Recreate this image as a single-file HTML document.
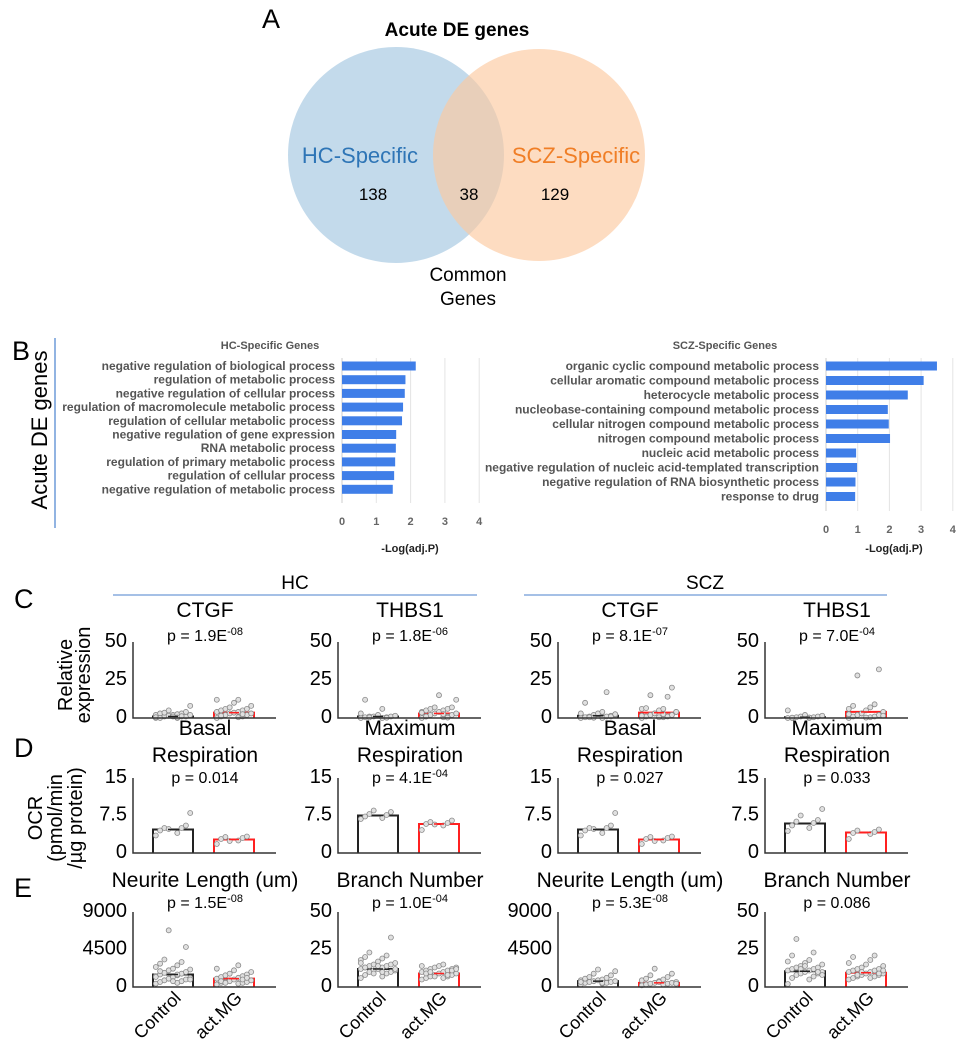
<!DOCTYPE html>
<html><head><meta charset="utf-8"><style>
body{margin:0;background:#fff;}
svg text{font-family:"Liberation Sans",Arial,sans-serif;}
</style></head><body>
<svg id="fig" width="965" height="1050" viewBox="0 0 965 1050" xmlns="http://www.w3.org/2000/svg">
<g>
<text x="262" y="28" font-size="27">A</text>
<text x="457" y="36" font-size="19" font-weight="bold" text-anchor="middle">Acute DE genes</text>
<circle cx="396" cy="155" r="108" fill="#a9cbe2" fill-opacity="0.7"/>
<circle cx="539" cy="155" r="106" fill="#fccaa0" fill-opacity="0.65"/>
<text x="360" y="163" font-size="22" fill="#2e75b6" text-anchor="middle">HC-Specific</text>
<text x="576" y="163" font-size="22" fill="#f07e26" text-anchor="middle">SCZ-Specific</text>
<text x="373" y="200" font-size="17" text-anchor="middle">138</text>
<text x="469" y="200" font-size="17" text-anchor="middle">38</text>
<text x="555" y="200" font-size="17" text-anchor="middle">129</text>
<text x="468" y="281" font-size="19" text-anchor="middle">Common</text>
<text x="468" y="305" font-size="19" text-anchor="middle">Genes</text>
</g>
<g id="pb">
<text x="12" y="360" font-size="27">B</text>
<line x1="55" y1="338" x2="55" y2="528" stroke="#6f9bd8" stroke-width="1.5"/>
<text transform="translate(47,430) rotate(-90)" font-size="22" text-anchor="middle">Acute DE genes</text>
</g>
<g id="pcde">
<text x="14" y="608" font-size="27">C</text>
<text x="14" y="757" font-size="27">D</text>
<text x="14" y="897" font-size="27">E</text>
<line x1="113" y1="595" x2="477" y2="595" stroke="#6f9bd8" stroke-width="1.2"/>
<text x="295" y="589" font-size="19" text-anchor="middle">HC</text>
<line x1="524" y1="595" x2="887" y2="595" stroke="#6f9bd8" stroke-width="1.2"/>
<text x="705" y="589" font-size="19" text-anchor="middle">SCZ</text>
<text transform="translate(72,675) rotate(-90)" font-size="20" text-anchor="middle">Relative</text>
<text transform="translate(90,675) rotate(-90)" font-size="20" text-anchor="middle">expression</text>
<text transform="translate(42,818) rotate(-90)" font-size="20" text-anchor="middle">OCR</text>
<text transform="translate(62,818) rotate(-90)" font-size="20" text-anchor="middle">(pmol/min</text>
<text transform="translate(82,818) rotate(-90)" font-size="20" text-anchor="middle">/µg protein)</text>
</g>
</svg>
<script>
// ---------- Panel B data ----------
const hcTerms=["negative regulation of biological process","regulation of metabolic process","negative regulation of cellular process","regulation of macromolecule metabolic process","regulation of cellular metabolic process","negative regulation of gene expression","RNA metabolic process","regulation of primary metabolic process","regulation of cellular process","negative regulation of metabolic process"];
const hcValues=[2.15,1.85,1.83,1.78,1.75,1.58,1.57,1.55,1.52,1.48];
const sczTerms=["organic cyclic compound metabolic process","cellular aromatic compound metabolic process","heterocycle metabolic process","nucleobase-containing compound metabolic process","cellular nitrogen compound metabolic process","nitrogen compound metabolic process","nucleic acid metabolic process","negative regulation of nucleic acid-templated transcription","negative regulation of RNA biosynthetic process","response to drug"];
const sczValues=[3.5,3.08,2.58,1.95,1.98,2.02,0.95,0.98,0.93,0.92];
const goTicks=[0,1,2,3,4];

// ---------- Panels C-E data ----------
const panelTitles=[["CTGF"],["THBS1"],["CTGF"],["THBS1"],["Basal","Respiration"],["Maximum","Respiration"],["Basal","Respiration"],["Maximum","Respiration"],["Neurite Length (um)"],["Branch Number"],["Neurite Length (um)"],["Branch Number"]];
const pTexts=[["p = 1.9E","-08"],["p = 1.8E","-06"],["p = 8.1E","-07"],["p = 7.0E","-04"],["p = 0.014",""],["p = 4.1E","-04"],["p = 0.027",""],["p = 0.033",""],["p = 1.5E","-08"],["p = 1.0E","-04"],["p =  5.3E","-08"],["p = 0.086",""]];
const panelMax=[50,50,50,50,15,15,15,15,9000,50,9000,50];
const panelTicks=[["0","25","50"],["0","25","50"],["0","25","50"],["0","25","50"],["0","7.5","15"],["0","7.5","15"],["0","7.5","15"],["0","7.5","15"],["0","4500","9000"],["0","25","50"],["0","4500","9000"],["0","25","50"]];
const panelTickVals=[[0,25,50],[0,25,50],[0,25,50],[0,25,50],[0,7.5,15],[0,7.5,15],[0,7.5,15],[0,7.5,15],[0,4500,9000],[0,25,50],[0,4500,9000],[0,25,50]];
const controlMeans=[1,1,1.5,0.5,4.7,7.5,4.7,5.9,1500,12,700,10.5];
const actMeans=[3.5,3,3.5,4,2.7,5.8,2.7,4.1,1000,9,500,9.5];
const controlDots=[
[0,0,0.5,1,1,1,1.5,2,2,2,2.5,3,3,3.5,4,5,8,1,0.5,0.3,0,1.2],
[0,0,0.5,0.5,1,1,1,1.5,2,3,6,12,0.2,0.4],
[0,0,0.5,1,1,1.5,2,2,3,3,4,10,17,0.5,1,0.2,2.5],
[0,0,0,0.5,0.5,1,1,1.5,2,5,0.3,0.2],
[3.5,4,4.5,5,5,5.5,4.8,8],
[6.8,7,7.3,7.6,7.8,8.2,8.5],
[3.5,4,4.5,5,5,5.5,4.8,8],
[4.4,5,5.5,6,6.3,6.6,7.5,8.8],
[400,500,600,700,800,900,1000,1100,1200,1300,1400,1500,1600,1700,1800,2000,2100,2200,2400,2600,2800,3000,3300,4800,6800,900,700,1200,1500,1900],
[6,7,8,9,10,10,11,11,12,12,13,13,14,14,15,15,16,17,18,19,20,21,23,33,9,12,14,16,10,13],
[300,400,500,500,600,600,700,700,800,800,900,1000,1100,1200,1400,1600,1900,2100,600,500],
[2,5,6,7,8,9,9,10,10,11,11,12,12,13,13,14,15,16,17,18,21,23,32,10,12,8,14]];
const actDots=[
[0,0.5,1,1,2,2,3,3,3.5,4,4,5,5,6,6,7,8,10,12,12,1.5,2.5],
[0,0.5,1,1,2,2,3,3,4,4,5,5,6,6,7,7,12,15,3.5,2.5,1,0.3],
[0,0.5,1,1,2,2,3,4,5,6,6,6.5,14,15,20,3,4,0.5,1.5,2.5],
[0,0.5,1,1,2,2,3,4,5,6,7,8,9,28,32,3,1.5,0.3,2.5],
[1.8,2.5,2.8,3,3.2,3.3,2.4],
[4.6,5.5,5.8,6,6.2,6.5,5.7],
[1.8,2.5,2.8,3,3.2,3.3,2.4],
[2.8,3.8,4,4.2,4.5,4.7],
[300,400,500,500,600,600,700,800,900,1000,1100,1200,1300,1400,1500,1600,1800,2000,2200,2600,700,900,500,1100],
[5,6,6,7,7,8,8,9,9,10,10,11,11,12,12,13,13,14,14,15,9,8,10,11,7,12],
[200,300,300,400,400,500,500,600,700,800,900,1000,1200,1400,1600,2200,400,600],
[5,6,6,7,7,8,8,9,9,10,10,11,11,12,12,13,14,15,16,18,20,21,8,9,10,11]];
const xCategories=["Control","act.MG"];

const svg=document.getElementById('fig');
const NS="http://www.w3.org/2000/svg";
function mk(tag,attrs,parent){const e=document.createElementNS(NS,tag);for(const k in attrs)e.setAttribute(k,attrs[k]);(parent||svg).appendChild(e);return e;}

// ---------- Panel B ----------
function goChart(terms,vals,x0,unit,yTop,step,title,titleX,name){
  const g=mk('g',{});
  
  
  const xs=v=>x0+v*unit;
  const yEnd=yTop+step*terms.length;
  goTicks.forEach(t=>{
    if(t>0){const gl=mk('line',{x1:xs(t),x2:xs(t),y1:yTop-8,y2:yEnd,stroke:'#e4e4e4','stroke-width':1},g);
      
      }
    const tl=mk('text',{x:xs(t),y:yEnd+22,'font-size':11,'font-weight':'bold',fill:'#666','text-anchor':'middle'},g);
    tl.textContent=t;
    
    
  });
  const ax=mk('line',{x1:x0,x2:x0,y1:yTop-8,y2:yEnd,stroke:'#ccc','stroke-width':1},g);
  
  
  terms.forEach((t,i)=>{
    const cy=yTop+i*step;
    const b=mk('rect',{x:x0,y:cy-4.5,width:xs(vals[i])-x0,height:9,fill:'#3f7ee8'},g);
    
    
    const l=mk('text',{x:x0-7,y:cy+4,'font-size':12,'font-weight':'bold',fill:'#555','text-anchor':'end'},g);
    l.textContent=t;
    
    
  });
  const tt=mk('text',{x:titleX,y:349,'font-size':11,'font-weight':'bold',fill:'#555','text-anchor':'middle'},g);
  tt.textContent=title;
  
  
  const xt=mk('text',{x:x0+68,y:552,'font-size':11,'font-weight':'bold',fill:'#222','text-anchor':'middle'},g);
  xt.textContent='-Log(adj.P)';
  
  
}
goChart(hcTerms,hcValues,342,34.3,366,13.7,'HC-Specific Genes',270,'hc-go-chart');
goChart(sczTerms,sczValues,826,31.7,366,14.5,'SCZ-Specific Genes',725,'scz-go-chart');

// ---------- Panels C-E ----------
const colX=[133,338,558,765];
const rowBase=[718,853,987];
const rowTop=[642,778,912];
const titleY=[[617],[735,762],[887]];
const pY=[641,783,908];
for(let p=0;p<12;p++){
  const r=Math.floor(p/4), c=p%4;
  const x0=colX[c], base=rowBase[r], top=rowTop[r];
  const ys=v=>base-(v/panelMax[p])*(base-top);
  const g=mk('g',{});
  
  
  const cx=x0+72;
  panelTitles[p].forEach((t,i)=>{
    const e=mk('text',{x:cx,y:titleY[r][i],'font-size':21,'text-anchor':'middle'},g);
    e.textContent=t;
    
    
  });
  const pt=mk('text',{x:cx,y:pY[r],'font-size':16,'text-anchor':'middle'},g);
  
  
  const t1=mk('tspan',{},pt);t1.textContent=pTexts[p][0];
  if(pTexts[p][1]){const t2=mk('tspan',{dy:-6,'font-size':11},pt);t2.textContent=pTexts[p][1];}
  panelTickVals[p].forEach((v,i)=>{
    const tl=mk('text',{x:x0-6,y:ys(v)+5,'font-size':20,'text-anchor':'end'},g);
    tl.textContent=panelTicks[p][i];
    
    
  });
  const means=[controlMeans[p],actMeans[p]], dots=[controlDots[p],actDots[p]];
  [0,1].forEach(k=>{
    const bx=x0+20+k*61, col=k?'#ff2020':'#222';
    const bc=bx+20;
    const bar=mk('path',{d:`M${bx},${base} V${ys(means[k])} H${bx+40} V${base}`,fill:'none',stroke:col,'stroke-width':2},g);
    
    
    dots[k].forEach((v,i)=>{
      const off=((i*5)%9-4)*4.3;
      const d=mk('circle',{cx:bc+off,cy:ys(v),r:2.5,fill:'#e0e0e0',stroke:'#8a8a8a','stroke-width':0.8},g);
      
      
    });
    const eb=mk('line',{x1:bc-5,x2:bc+5,y1:ys(means[k]),y2:ys(means[k]),stroke:col,'stroke-width':1.5},g);
    
    
    if(r===2){
      const xl=mk('text',{transform:`translate(${bc+9},${base+12}) rotate(-45)`,'font-size':18,'text-anchor':'end'},g);
      xl.textContent=xCategories[k];
      
      
    }
  });
  const ax=mk('path',{d:`M${x0},${top} V${base} H${x0+143}`,fill:'none',stroke:'#333','stroke-width':1.5},g);
  
  
}
</script>
</body></html>
